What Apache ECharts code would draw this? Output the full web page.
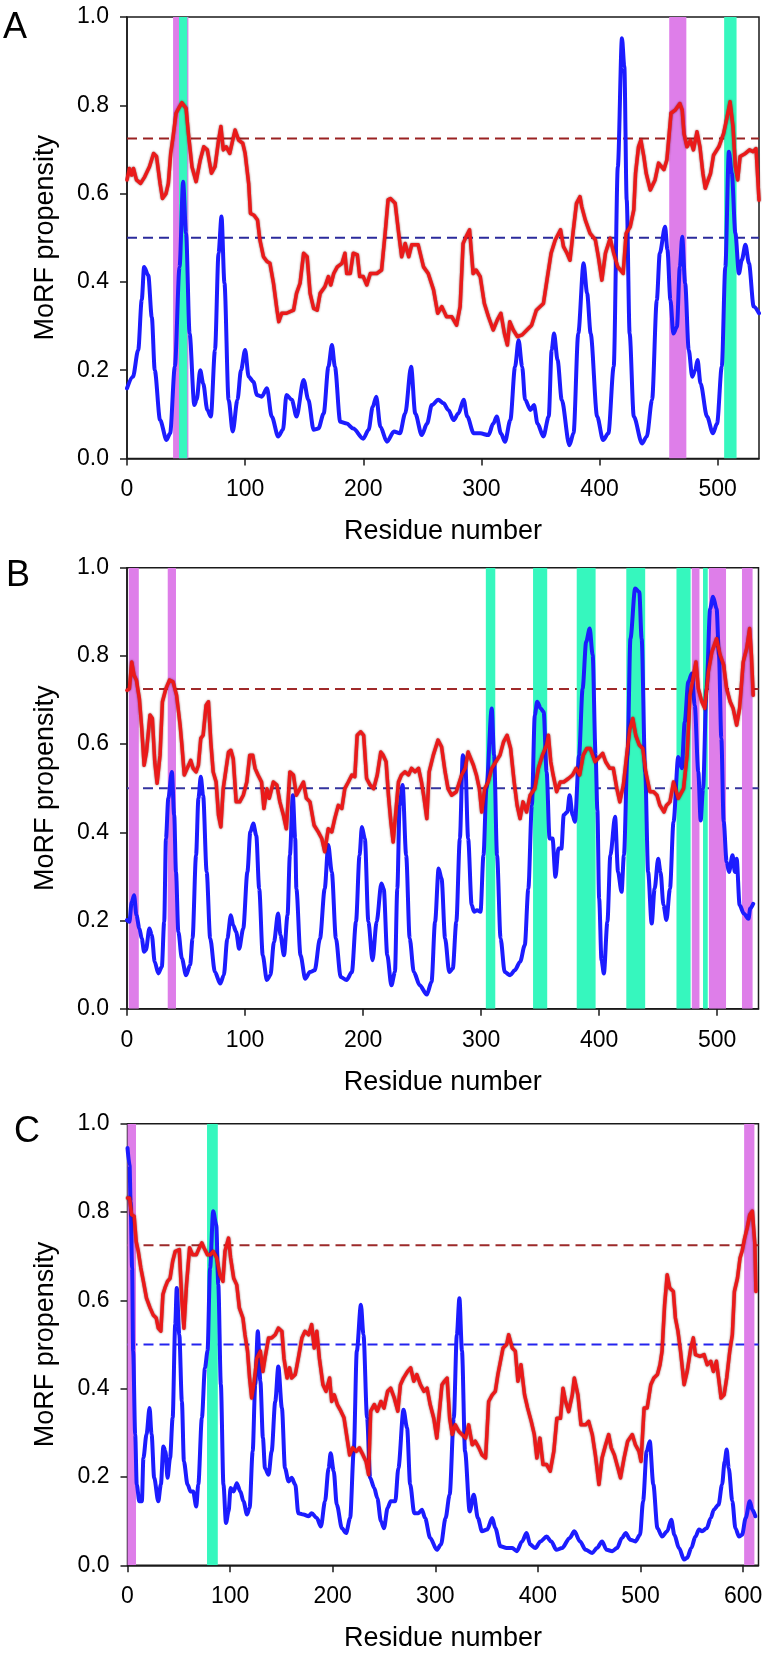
<!DOCTYPE html>
<html>
<head>
<meta charset="utf-8">
<script src="https://cdn.jsdelivr.net/npm/echarts@6/dist/echarts.min.js"></script>
<style>
html,body{margin:0;padding:0;background:#fff;}
#chart{width:774px;height:1664px;}
</style>
</head>
<body>
<div id="chart"></div>
<script>
// ---------------- DATA ----------------
const xTicks = [0, 100, 200, 300, 400, 500, 600];
const yTicks = [0, 0.2, 0.4, 0.6, 0.8, 1.0];
const panelLetters = ['A', 'B', 'C'];
const xMaxes = [535, 535, 615];
const redThreshold = 0.725;
const blueThreshold = 0.5;

// Panel A
const aBlue = [[0,0.159],[5,0.185],[9.5,0.246],[12.5,0.36],[14.5,0.434],[18,0.415],[21,0.32],[23.5,0.2],[28,0.087],[33.5,0.042],[36.5,0.057],[40.5,0.208],[44.5,0.434],[47.5,0.627],[50,0.51],[53,0.283],[57,0.121],[59,0.133],[62,0.2],[64.5,0.17],[68,0.11],[71,0.095],[74.5,0.246],[77.5,0.465],[80,0.548],[82.5,0.397],[86,0.133],[89.5,0.061],[93.5,0.133],[96.5,0.2],[100,0.246],[103,0.185],[107,0.174],[110,0.144],[114,0.14],[118.5,0.159],[122.5,0.095],[128,0.05],[132,0.065],[135,0.144],[139.5,0.133],[143.5,0.095],[149.5,0.178],[153.5,0.133],[158,0.065],[162,0.068],[166.5,0.102],[170.5,0.208],[173.5,0.257],[176,0.208],[180.5,0.083],[186,0.079],[191.5,0.068],[200,0.045],[204.5,0.065],[208,0.117],[211,0.14],[214.5,0.072],[220,0.038],[226,0.061],[231,0.057],[235.5,0.102],[240.5,0.208],[244,0.102],[249.5,0.053],[254,0.079],[258,0.121],[263.5,0.133],[268,0.125],[272,0.11],[276.5,0.087],[280.5,0.102],[285,0.133],[288,0.095],[293.5,0.057],[299,0.057],[306,0.053],[310,0.079],[313,0.095],[316.5,0.057],[320,0.038],[324.5,0.087],[328.5,0.208],[331.5,0.268],[334.5,0.208],[337,0.133],[341.5,0.11],[344.5,0.121],[347.5,0.079],[352.5,0.05],[357,0.095],[359.5,0.246],[361.5,0.283],[364.5,0.223],[368,0.133],[374.5,0.03],[378,0.057],[382,0.283],[386.5,0.442],[389.5,0.374],[392.5,0.283],[398,0.095],[403,0.042],[407.5,0.057],[412,0.208],[415.5,0.661],[419,0.952],[421,0.888],[423,0.586],[425.5,0.283],[429,0.095],[436,0.034],[440,0.05],[444.5,0.133],[448.5,0.359],[451,0.465],[455.5,0.525],[457.5,0.472],[460,0.359],[462.5,0.283],[465.5,0.298],[468,0.434],[470,0.502],[472.5,0.397],[475.5,0.246],[478.5,0.185],[481,0.2],[483,0.223],[485.5,0.17],[491,0.095],[496,0.057],[499.5,0.079],[503.5,0.208],[506.5,0.434],[509.5,0.695],[512,0.646],[515,0.51],[518,0.419],[520.5,0.45],[523.5,0.484],[526.5,0.442],[530.5,0.344],[535,0.329]];
const aRed = [[0,0.631],[2,0.657],[4,0.642],[5.5,0.657],[8,0.631],[11.5,0.623],[15,0.638],[19,0.661],[22.5,0.691],[25,0.684],[28,0.623],[30,0.589],[33,0.6],[35,0.623],[37,0.691],[39,0.729],[41.5,0.782],[44.5,0.797],[46.5,0.806],[50,0.793],[52,0.736],[55,0.661],[58.5,0.627],[62,0.676],[65,0.706],[68,0.699],[71.5,0.646],[74.5,0.661],[77.5,0.721],[79.5,0.752],[81.5,0.699],[84,0.706],[87,0.691],[89.5,0.721],[91.5,0.744],[94.5,0.721],[98,0.714],[100,0.691],[103,0.623],[104.5,0.555],[107.5,0.551],[110.5,0.54],[112.5,0.495],[115.5,0.457],[118.5,0.446],[121,0.442],[124,0.397],[127,0.336],[128.5,0.31],[131,0.329],[135,0.329],[141,0.336],[143.5,0.374],[146.5,0.397],[149.5,0.465],[152.5,0.457],[155,0.374],[158,0.34],[161,0.336],[163.5,0.374],[167.5,0.389],[170.5,0.412],[172.5,0.393],[175,0.419],[178,0.434],[182,0.442],[184.5,0.465],[186,0.419],[189,0.419],[191.5,0.465],[195,0.461],[197,0.412],[200,0.412],[203,0.393],[206,0.419],[211.5,0.419],[215.5,0.427],[218.5,0.51],[221,0.586],[223,0.589],[227,0.578],[230,0.51],[232.5,0.457],[235.5,0.487],[238.5,0.457],[241,0.484],[246.5,0.484],[251,0.434],[255,0.419],[259.5,0.382],[263,0.329],[266.5,0.344],[270.5,0.321],[275,0.321],[279,0.302],[282,0.344],[284.5,0.487],[287,0.502],[290,0.518],[293,0.419],[295.5,0.427],[299,0.412],[302.5,0.351],[306,0.321],[310,0.291],[313.5,0.314],[316.5,0.329],[319.5,0.283],[322,0.257],[324,0.31],[327,0.291],[330.5,0.276],[334.5,0.28],[338.5,0.291],[342.5,0.302],[346.5,0.336],[352.5,0.351],[355.5,0.404],[359,0.465],[362.5,0.495],[367,0.518],[369.5,0.48],[372.5,0.465],[375,0.449],[377.5,0.51],[380.5,0.578],[383.5,0.593],[385,0.57],[388,0.54],[392,0.51],[396.5,0.495],[399,0.457],[402,0.404],[405,0.465],[409,0.499],[412,0.465],[415.5,0.434],[420,0.419],[422.5,0.51],[426,0.525],[429,0.563],[430.5,0.646],[433,0.706],[435,0.721],[437.5,0.684],[439.5,0.646],[443,0.608],[447,0.631],[450,0.669],[454.5,0.654],[457,0.676],[460.5,0.782],[464,0.789],[468,0.804],[470,0.789],[471.5,0.736],[474,0.706],[477,0.721],[479.5,0.699],[482.5,0.74],[485,0.706],[487.5,0.646],[489.5,0.612],[494,0.646],[496.5,0.687],[501,0.706],[505,0.736],[508,0.774],[510.5,0.808],[513,0.751],[515,0.661],[517,0.631],[519,0.684],[523.5,0.691],[527,0.699],[530,0.695],[532.5,0.702],[535,0.585]];
const aPink = [[39,52],[459,473.5]];
const aGreen = [[44,51],[505.5,516]];

// Panel B
const bBlue = [[0,0.201],[2,0.197],[4,0.242],[6,0.257],[8,0.212],[10.5,0.182],[12.5,0.159],[14.5,0.129],[16,0.133],[19,0.182],[21,0.167],[23.5,0.106],[26.5,0.08],[29.5,0.095],[31.5,0.197],[33,0.386],[35,0.477],[38,0.537],[40,0.439],[41.5,0.31],[43.5,0.174],[46.5,0.114],[50,0.076],[53.5,0.099],[55.5,0.159],[58.5,0.348],[60.5,0.477],[62.5,0.526],[64.5,0.484],[67.5,0.31],[70.5,0.159],[74.5,0.083],[79,0.057],[82,0.076],[85,0.159],[88,0.212],[90,0.189],[92.5,0.174],[95,0.136],[98.5,0.182],[102,0.31],[104.5,0.401],[107,0.42],[109.5,0.393],[112,0.272],[115,0.121],[118.5,0.065],[121.5,0.076],[124.5,0.151],[128,0.216],[130,0.167],[133,0.121],[136,0.212],[138,0.348],[140.5,0.484],[142.5,0.386],[143.5,0.272],[147,0.121],[151,0.068],[155,0.083],[159,0.087],[163.5,0.159],[167.5,0.272],[170.5,0.371],[173.5,0.31],[177,0.159],[181,0.072],[186,0.065],[190.5,0.083],[194,0.197],[197,0.348],[199,0.412],[201.5,0.386],[204.5,0.197],[208,0.11],[211.5,0.197],[215.5,0.284],[217.5,0.272],[220.5,0.121],[224,0.053],[227,0.083],[229,0.272],[231,0.461],[233.5,0.507],[236.5,0.348],[239.5,0.159],[243,0.083],[248,0.053],[254,0.032],[258,0.061],[261,0.197],[264,0.318],[266.5,0.295],[269.5,0.159],[273,0.083],[276,0.091],[279,0.197],[282,0.386],[284.5,0.575],[286.5,0.56],[289,0.386],[292,0.235],[294,0.22],[296.5,0.223],[299.5,0.22],[302,0.348],[304.5,0.499],[309,0.681],[311,0.575],[313.5,0.348],[316.5,0.159],[320,0.083],[324.5,0.076],[328.5,0.087],[333,0.106],[337,0.144],[340,0.272],[343,0.461],[345.5,0.666],[347.5,0.696],[350.5,0.681],[353,0.673],[355.5,0.537],[358,0.386],[360.5,0.386],[363,0.299],[365.5,0.363],[368,0.363],[370,0.439],[373,0.446],[375,0.484],[377.5,0.439],[379.5,0.424],[383,0.575],[386,0.726],[389,0.832],[392,0.862],[394.5,0.802],[397,0.575],[398.5,0.45],[400,0.25],[402,0.11],[404,0.08],[407,0.197],[409.5,0.348],[413.5,0.435],[416,0.31],[419,0.265],[421,0.348],[424,0.575],[426.5,0.839],[430.5,0.953],[434,0.945],[436,0.839],[439,0.537],[441.5,0.31],[444.5,0.193],[447,0.272],[450,0.34],[452,0.31],[454.5,0.235],[457,0.201],[460,0.272],[463,0.424],[467,0.571],[470,0.545],[472.5,0.65],[475.5,0.741],[478.5,0.76],[481,0.688],[484,0.537],[486,0.427],[488,0.499],[491,0.726],[494,0.907],[496.5,0.934],[499.5,0.907],[501.5,0.802],[503.5,0.613],[505.5,0.424],[508,0.333],[510,0.31],[513,0.348],[515,0.31],[516.5,0.34],[519,0.235],[522.5,0.216],[526.5,0.204],[528,0.227],[530.5,0.238]];
const bRed = [[0,0.722],[2,0.726],[4,0.786],[6,0.756],[8,0.745],[10.5,0.703],[12.5,0.635],[14.5,0.552],[16.5,0.582],[19.5,0.666],[21.5,0.658],[23.5,0.56],[25.5,0.511],[28,0.575],[30,0.696],[33,0.726],[36,0.745],[39,0.741],[42,0.711],[45,0.643],[46.5,0.598],[48.5,0.53],[51,0.545],[54,0.563],[56,0.545],[58.5,0.537],[60.5,0.552],[62.5,0.613],[64.5,0.62],[67,0.688],[69,0.696],[71,0.605],[73,0.537],[75.5,0.514],[77.5,0.439],[79.5,0.412],[81.5,0.499],[84,0.545],[86,0.582],[88,0.586],[90,0.567],[92.5,0.469],[95.5,0.469],[98.5,0.484],[101.5,0.514],[104,0.575],[106.5,0.575],[108.5,0.545],[111,0.53],[114,0.514],[116,0.454],[118.5,0.499],[120.5,0.477],[124,0.514],[127,0.507],[129.5,0.469],[132.5,0.439],[135,0.408],[138,0.537],[141,0.53],[143.5,0.484],[146.5,0.499],[149.5,0.514],[152,0.477],[155,0.469],[158.5,0.416],[162,0.401],[165,0.386],[167.5,0.356],[170.5,0.408],[173.5,0.401],[176,0.431],[179,0.461],[182,0.454],[184.5,0.499],[187.5,0.514],[190.5,0.53],[193,0.526],[195,0.62],[198,0.628],[200.5,0.62],[203,0.522],[206,0.507],[209,0.499],[212,0.53],[215,0.582],[217,0.575],[219.5,0.56],[221.5,0.484],[223.5,0.424],[225.5,0.378],[228,0.454],[230,0.514],[232.5,0.53],[235.5,0.537],[238.5,0.53],[241,0.545],[244,0.537],[247,0.545],[249.5,0.514],[251.5,0.48],[254,0.431],[256,0.537],[259.5,0.575],[263.5,0.609],[266.5,0.594],[269.5,0.537],[272,0.499],[275,0.484],[279,0.492],[283.5,0.53],[286.5,0.545],[289,0.582],[293.5,0.552],[296,0.53],[298.5,0.499],[300.5,0.446],[303,0.499],[306,0.514],[309,0.545],[312.5,0.56],[316,0.575],[319,0.605],[322,0.62],[325,0.59],[328,0.514],[330.5,0.461],[333,0.431],[335.5,0.469],[338.5,0.446],[341.5,0.484],[345.5,0.499],[348.5,0.545],[352,0.575],[355.5,0.598],[357,0.62],[359,0.56],[361,0.53],[364,0.492],[367,0.514],[370,0.514],[374,0.522],[377.5,0.53],[380.5,0.545],[383.5,0.53],[386.5,0.575],[389.5,0.59],[392.5,0.59],[396.5,0.56],[399,0.567],[403,0.579],[405.5,0.56],[409,0.545],[412,0.545],[415,0.499],[417.5,0.469],[420.5,0.507],[423,0.567],[426,0.635],[428.5,0.658],[431,0.62],[434,0.598],[437,0.59],[439.5,0.537],[443,0.492],[446,0.492],[449,0.484],[451.5,0.461],[455,0.446],[457,0.461],[460,0.469],[463,0.514],[467,0.477],[471.5,0.499],[474.5,0.575],[477,0.711],[480,0.756],[482,0.786],[484,0.726],[487,0.696],[489.5,0.681],[492.5,0.764],[495.5,0.809],[499.5,0.839],[502.5,0.802],[505.5,0.779],[508,0.726],[511,0.696],[513.5,0.681],[516.5,0.643],[519,0.681],[522,0.786],[525,0.817],[527.5,0.862],[529,0.802],[530.5,0.711]];
const bPink = [[1.5,10],[34.5,41.5],[478.5,485],[493,507.5],[521,530]];
const bGreen = [[304,312],[344,356],[381,397],[423,439],[465.5,477.5],[488,492]];

// Panel C
const cBlue = [[0,0.945],[2,0.907],[3,0.824],[4.5,0.673],[5.5,0.485],[7.5,0.296],[9,0.183],[11.5,0.145],[14,0.145],[15.5,0.243],[18.5,0.296],[21.5,0.356],[23.5,0.296],[26,0.198],[30,0.145],[32.5,0.183],[35,0.269],[37,0.258],[39,0.198],[41.5,0.243],[44,0.334],[46.5,0.545],[48,0.628],[50.5,0.522],[53,0.371],[55,0.235],[58.5,0.183],[61.5,0.167],[64,0.167],[67,0.133],[69,0.183],[72.5,0.334],[75.5,0.447],[78,0.485],[80.5,0.673],[83.5,0.802],[86.5,0.771],[88.5,0.635],[91,0.409],[93.5,0.183],[96,0.096],[98.5,0.122],[100.5,0.175],[103.5,0.167],[106.5,0.186],[110,0.167],[113,0.145],[116.5,0.115],[119,0.13],[122,0.258],[124.5,0.409],[127,0.53],[129.5,0.417],[132,0.288],[134,0.22],[137.5,0.205],[140.5,0.258],[144,0.371],[147,0.45],[150.5,0.356],[153.5,0.22],[157,0.19],[160,0.198],[163.5,0.183],[166.5,0.118],[171.5,0.115],[176.5,0.111],[179.5,0.118],[184.5,0.107],[188.5,0.088],[192.5,0.145],[196,0.22],[198,0.254],[201,0.213],[204,0.137],[209,0.084],[213,0.073],[217,0.107],[220.5,0.258],[223.5,0.485],[227.5,0.59],[230,0.522],[233.5,0.334],[236.5,0.198],[240.5,0.175],[243.5,0.152],[247,0.1],[250,0.084],[253.5,0.13],[256.5,0.145],[261,0.145],[264,0.22],[269,0.352],[272.5,0.311],[275.5,0.183],[279.5,0.118],[283.5,0.118],[287,0.126],[290,0.107],[295,0.062],[301.5,0.035],[305.5,0.047],[310,0.107],[314,0.16],[318,0.333],[321,0.522],[323.5,0.605],[326,0.485],[329,0.258],[333.5,0.122],[337.5,0.16],[341.5,0.107],[345.5,0.077],[350.5,0.081],[355.5,0.107],[358.5,0.084],[363.5,0.043],[369.5,0.039],[375,0.039],[379.5,0.032],[384.5,0.054],[389,0.073],[392.5,0.047],[397.5,0.039],[402.5,0.054],[408.5,0.065],[413,0.054],[418,0.035],[423.5,0.039],[431,0.062],[435.5,0.077],[441,0.054],[446.5,0.035],[453,0.028],[457.5,0.039],[462.5,0.054],[467,0.035],[472.5,0.032],[477,0.039],[482,0.062],[485.5,0.073],[490,0.058],[495,0.054],[499.5,0.069],[502.5,0.145],[506,0.258],[509,0.281],[512.5,0.183],[516.5,0.084],[521,0.065],[526,0.077],[530,0.103],[533,0.069],[537.5,0.039],[542.5,0.013],[545.5,0.017],[549.5,0.039],[553.5,0.065],[557,0.081],[560,0.077],[564.5,0.084],[568.5,0.107],[571.5,0.126],[576,0.137],[579.5,0.183],[582,0.235],[584,0.262],[586,0.22],[589.5,0.145],[592.5,0.084],[596,0.065],[599,0.069],[602.5,0.107],[606.5,0.145],[609,0.126],[612,0.111]];
const cRed = [[0,0.832],[2,0.832],[4,0.794],[6.5,0.79],[8.5,0.733],[10.5,0.711],[13,0.673],[15.5,0.643],[18.5,0.605],[22,0.583],[25,0.567],[28,0.56],[30,0.537],[32.5,0.53],[34.5,0.613],[36.5,0.628],[39,0.643],[41.5,0.65],[44,0.688],[46.5,0.711],[50.5,0.715],[53,0.598],[55,0.537],[57.5,0.635],[60.5,0.719],[63.5,0.703],[67,0.703],[70,0.719],[72.5,0.73],[74.5,0.719],[78,0.703],[80.5,0.703],[83.5,0.711],[87,0.696],[90,0.658],[93,0.643],[95,0.711],[98.5,0.741],[100.5,0.696],[103.5,0.65],[106.5,0.635],[109,0.583],[112.5,0.56],[114.5,0.522],[117,0.485],[119,0.424],[121,0.379],[123.5,0.417],[126,0.469],[129.5,0.485],[132,0.439],[134,0.469],[137.5,0.515],[140.5,0.515],[144,0.522],[147,0.537],[150.5,0.53],[152.5,0.469],[155.5,0.424],[158,0.447],[160,0.424],[163.5,0.432],[166.5,0.469],[170,0.515],[173,0.53],[176.5,0.522],[179.5,0.545],[182,0.492],[184.5,0.53],[187,0.469],[190.5,0.409],[193.5,0.394],[197,0.424],[199,0.371],[201.5,0.386],[204.5,0.364],[208,0.349],[211,0.334],[214,0.288],[216.5,0.25],[219.5,0.266],[223,0.258],[226,0.266],[229.5,0.25],[232.5,0.235],[235,0.205],[237,0.349],[240.5,0.364],[243.5,0.349],[247,0.371],[250,0.356],[253.5,0.394],[256.5,0.401],[260,0.379],[263.5,0.349],[266,0.409],[269,0.424],[273,0.439],[276,0.447],[279,0.417],[282,0.432],[285.5,0.409],[289,0.394],[292,0.401],[295,0.364],[298.5,0.333],[301.5,0.288],[304,0.348],[306.5,0.409],[309,0.417],[311.5,0.424],[314,0.333],[316.5,0.296],[319.5,0.318],[323,0.303],[326,0.296],[329.5,0.288],[332.5,0.318],[336,0.273],[339,0.281],[342.5,0.266],[345.5,0.25],[349,0.243],[352,0.371],[355.5,0.386],[358.5,0.394],[361,0.432],[363.5,0.462],[366,0.492],[369.5,0.5],[371.5,0.522],[375,0.492],[378,0.485],[380.5,0.417],[383.5,0.454],[387,0.386],[390,0.356],[393.5,0.326],[396.5,0.296],[399,0.243],[402,0.288],[405,0.228],[408.5,0.228],[412,0.213],[415.5,0.258],[418.5,0.333],[422,0.333],[424.5,0.401],[427,0.371],[430,0.348],[433.5,0.386],[435.5,0.424],[439,0.386],[442,0.318],[446.5,0.318],[449.5,0.326],[453,0.296],[456,0.25],[459.5,0.183],[462.5,0.243],[466,0.273],[469,0.296],[471.5,0.266],[474.5,0.25],[478,0.22],[480.5,0.198],[484,0.243],[487.5,0.281],[492,0.296],[495,0.273],[498.5,0.258],[500.5,0.235],[503.5,0.356],[506.5,0.356],[510,0.409],[513,0.424],[516.5,0.432],[519,0.454],[521,0.485],[523.5,0.59],[526,0.658],[528.5,0.628],[532,0.62],[534,0.56],[536.5,0.53],[539,0.485],[542.5,0.409],[545.5,0.439],[549,0.492],[551.5,0.515],[553.5,0.477],[558,0.473],[562,0.477],[565,0.454],[568.5,0.462],[571,0.439],[574,0.462],[576.5,0.417],[578.5,0.379],[581.5,0.386],[584,0.424],[587,0.485],[589.5,0.522],[591.5,0.62],[594.5,0.65],[597,0.696],[599,0.711],[601.5,0.741],[604,0.764],[606.5,0.794],[609,0.802],[611.5,0.726],[612.5,0.62]];
const cPink = [[0,8.3],[601,611]];
const cGreen = [[77.5,88]];

// ---------------- LAYOUT / STYLE ----------------
const FONT = '"Liberation Sans", Arial, Helvetica, sans-serif';
const PINK = '#de7ee9';
const GREEN = '#36f7be';
const RED = '#ea1a1a';
const BLUE = '#1c1cff';
const AXIS = '#1a1a1a';

const panels = [
  {blue: aBlue, red: aRed, pink: aPink, green: aGreen,
   grid: {left: 127, top: 17, width: 632, height: 441.5},
   letterPos: {left: 3, top: 10}, dashRed: '#9a2222', dashBlue: '#2b2b9c'},
  {blue: bBlue, red: bRed, pink: bPink, green: bGreen,
   grid: {left: 127, top: 567.7, width: 631.5, height: 441},
   letterPos: {left: 6, top: 558}, dashRed: '#a02a2a', dashBlue: '#34349e'},
  {blue: cBlue, red: cRed, pink: cPink, green: cGreen,
   grid: {left: 127.5, top: 1123.7, width: 631, height: 441.6},
   letterPos: {left: 14, top: 1114}, dashRed: '#9c2a2a', dashBlue: '#2424ee'}
];

function bandRender(params, api) {
  const p0 = api.coord([api.value(0), 1]);
  const p1 = api.coord([api.value(1), 0]);
  return {
    type: 'rect',
    shape: {x: p0[0], y: p0[1], width: p1[0] - p0[0], height: p1[1] - p0[1]},
    style: {fill: api.visual('color')}
  };
}

const grids = [], xAxes = [], yAxes = [], series = [], graphics = [];

panels.forEach(function (p, i) {
  const xMax = xMaxes[i];
  grids.push(Object.assign({show: true, borderColor: AXIS, borderWidth: 1.5, backgroundColor: 'transparent'}, p.grid));
  const xt = xTicks.filter(function (t) { return t <= xMax; });
  xAxes.push({
    type: 'value', gridIndex: i, min: 0, max: xMax, interval: 100,
    name: 'Residue number', nameLocation: 'middle', nameGap: 60,
    nameTextStyle: {fontFamily: FONT, fontSize: 27, color: '#000'},
    axisLine: {show: true, onZero: false, lineStyle: {color: AXIS, width: 1.5}},
    axisTick: {show: true, inside: false, length: 7, lineStyle: {color: AXIS, width: 1.5}, customValues: xt},
    axisLabel: {show: true, margin: 20, fontFamily: FONT, fontSize: 23, color: '#000',
      customValues: xt,
      formatter: function (v) { return (v % 100 === 0) ? String(v) : ''; }},
    splitLine: {show: false}
  });
  yAxes.push({
    type: 'value', gridIndex: i, min: 0, max: 1, interval: 0.2,
    name: 'MoRF propensity', nameLocation: 'middle', nameGap: 68,
    nameTextStyle: {fontFamily: FONT, fontSize: 27, color: '#000'},
    axisLine: {show: true, lineStyle: {color: AXIS, width: 1.5}},
    axisTick: {show: true, inside: false, length: 7, lineStyle: {color: AXIS, width: 1.5}, customValues: yTicks},
    axisLabel: {show: true, margin: 18, fontFamily: FONT, fontSize: 23, color: '#000',
      customValues: yTicks,
      formatter: function (v) { return Number(v).toFixed(1); }},
    splitLine: {show: false}
  });

  // threshold dashed lines (under the bands)
  series.push({
    type: 'line', xAxisIndex: i, yAxisIndex: i, z: 1, symbol: 'none', silent: true,
    data: [[0, redThreshold], [xMax, redThreshold]],
    lineStyle: {color: p.dashRed, width: 2, type: [10, 6]}
  });
  series.push({
    type: 'line', xAxisIndex: i, yAxisIndex: i, z: 1, symbol: 'none', silent: true,
    data: [[0, blueThreshold], [xMax, blueThreshold]],
    lineStyle: {color: p.dashBlue, width: 2, type: [10, 6]}
  });

  // shaded bands
  const bandData = p.pink.map(function (b) { return {value: b, itemStyle: {color: PINK}}; })
    .concat(p.green.map(function (b) { return {value: b, itemStyle: {color: GREEN}}; }));
  series.push({
    type: 'custom', xAxisIndex: i, yAxisIndex: i, z: 2, silent: true,
    renderItem: bandRender, encode: {x: [0, 1]}, clip: true,
    data: bandData
  });

  // data lines
  series.push({
    type: 'line', xAxisIndex: i, yAxisIndex: i, z: 3, symbol: 'none', silent: true,
    smooth: 0.3, smoothMonotone: 'x',
    data: p.blue, lineStyle: {color: BLUE, width: 4, join: 'round', cap: 'round'}
  });
  series.push({
    type: 'line', xAxisIndex: i, yAxisIndex: i, z: 4, symbol: 'none', silent: true,
    data: p.red, lineStyle: {color: RED, width: 3.5, join: 'round', cap: 'round', shadowColor: 'rgba(90,0,0,0.7)', shadowBlur: 2}
  });

  graphics.push({
    type: 'text', left: p.letterPos.left, top: p.letterPos.top, z: 10,
    style: {text: panelLetters[i], fontFamily: FONT, fontSize: 36, fill: '#000'}
  });
});

const chart = echarts.init(document.getElementById('chart'), null, {renderer: 'canvas', width: 774, height: 1664});
chart.setOption({
  animation: false,
  backgroundColor: '#ffffff',
  grid: grids,
  xAxis: xAxes,
  yAxis: yAxes,
  series: series,
  graphic: graphics
});
</script>
</body>
</html>
